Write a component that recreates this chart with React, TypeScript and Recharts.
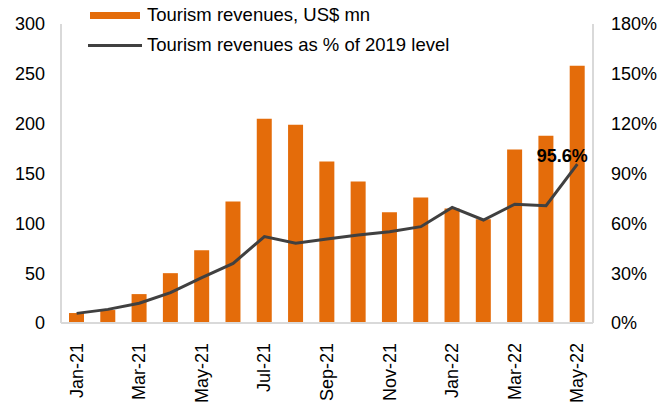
import { ComposedChart, Bar, Line, XAxis, YAxis, LabelList } from "recharts";

const months = [
  "Jan-21", "Feb-21", "Mar-21", "Apr-21", "May-21", "Jun-21", "Jul-21", "Aug-21", "Sep-21",
  "Oct-21", "Nov-21", "Dec-21", "Jan-22", "Feb-22", "Mar-22", "Apr-22", "May-22",
];
const revenues = [10, 13, 29, 50, 73, 122, 205, 199, 162, 142, 111, 126, 115, 104, 174, 188, 258];
const pctOf2019 = [5.8, 8.2, 11.9, 18.3, 27.3, 35.9, 52, 48, 50.6, 53, 55, 58, 69.6, 62, 71.5, 70.6, 95.6];
const leftTicks = [0, 50, 100, 150, 200, 250, 300];
const rightTicks = [0, 30, 60, 90, 120, 150, 180];

const data = months.map((m, i) => ({ month: m, rev: revenues[i], pct: pctOf2019[i] }));

const FONT = "'Liberation Sans', Arial, sans-serif";
const ORANGE = "#E46C0A";
const DARK = "#404040";
const AXIS = "#d9d9d9";

function MonthTick({ x, y, payload }: any) {
  return (
    <text
      x={0}
      y={0}
      transform={`translate(${x},${y + 12}) rotate(-90)`}
      textAnchor="end"
      dominantBaseline="central"
      fontSize={18}
      fontFamily={FONT}
      fill="#000"
    >
      {payload.value}
    </text>
  );
}

function LastLabel({ x, y, index, value }: any) {
  if (index !== pctOf2019.length - 1) return null;
  return (
    <text x={x - 15} y={y - 2} textAnchor="middle" fontSize={18} fontWeight="bold" fontFamily={FONT} fill="#000">
      {`${value}%`}
    </text>
  );
}

// legend sits inside the plot area, so it is drawn as an overlay
function ChartLegend() {
  return (
    <div
      style={{
        position: "absolute",
        left: 90,
        top: 0,
        fontFamily: FONT,
        fontSize: 18.5,
        color: "#000",
        lineHeight: "20px",
      }}
    >
      <div style={{ display: "flex", alignItems: "center", height: 30 }}>
        <span style={{ display: "inline-block", width: 50, height: 7, background: ORANGE, marginRight: 7 }} />
        Tourism revenues, US$ mn
      </div>
      <div style={{ display: "flex", alignItems: "center", height: 30 }}>
        <span style={{ display: "inline-block", width: 54, height: 3, background: DARK, marginRight: 5, marginLeft: -2 }} />
        Tourism revenues as % of 2019 level
      </div>
    </div>
  );
}

export default function App() {
  return (
    <div style={{ position: "absolute", left: 0, top: 0, width: 670, height: 403, background: "#fff" }}>
      <ComposedChart width={670} height={403} data={data} margin={{ top: 24, right: 0, left: 0, bottom: 0 }}>
        <XAxis
          dataKey="month"
          interval={1}
          height={80}
          tick={<MonthTick />}
          tickLine={false}
          axisLine={{ stroke: AXIS, strokeWidth: 2 }}
        />
        <YAxis
          yAxisId="left"
          width={61}
          domain={[0, 300]}
          ticks={leftTicks}
          tickSize={0}
          tickMargin={16}
          tickLine={false}
          axisLine={{ stroke: AXIS, strokeWidth: 2 }}
          tick={{ fontSize: 18, fontFamily: FONT, fill: "#000" }}
        />
        <YAxis
          yAxisId="right"
          orientation="right"
          width={77}
          domain={[0, 180]}
          ticks={rightTicks}
          tickSize={0}
          tickMargin={18}
          tickLine={false}
          axisLine={{ stroke: AXIS, strokeWidth: 2 }}
          tickFormatter={(v) => `${v}%`}
          tick={{ fontSize: 18, fontFamily: FONT, fill: "#000" }}
        />
        <Bar yAxisId="left" dataKey="rev" fill={ORANGE} barSize={15} isAnimationActive={false} />
        <Line
          yAxisId="right"
          dataKey="pct"
          type="linear"
          stroke={DARK}
          strokeWidth={3}
          dot={false}
          isAnimationActive={false}
        >
          <LabelList dataKey="pct" content={<LastLabel />} />
        </Line>
      </ComposedChart>
      <ChartLegend />
    </div>
  );
}
